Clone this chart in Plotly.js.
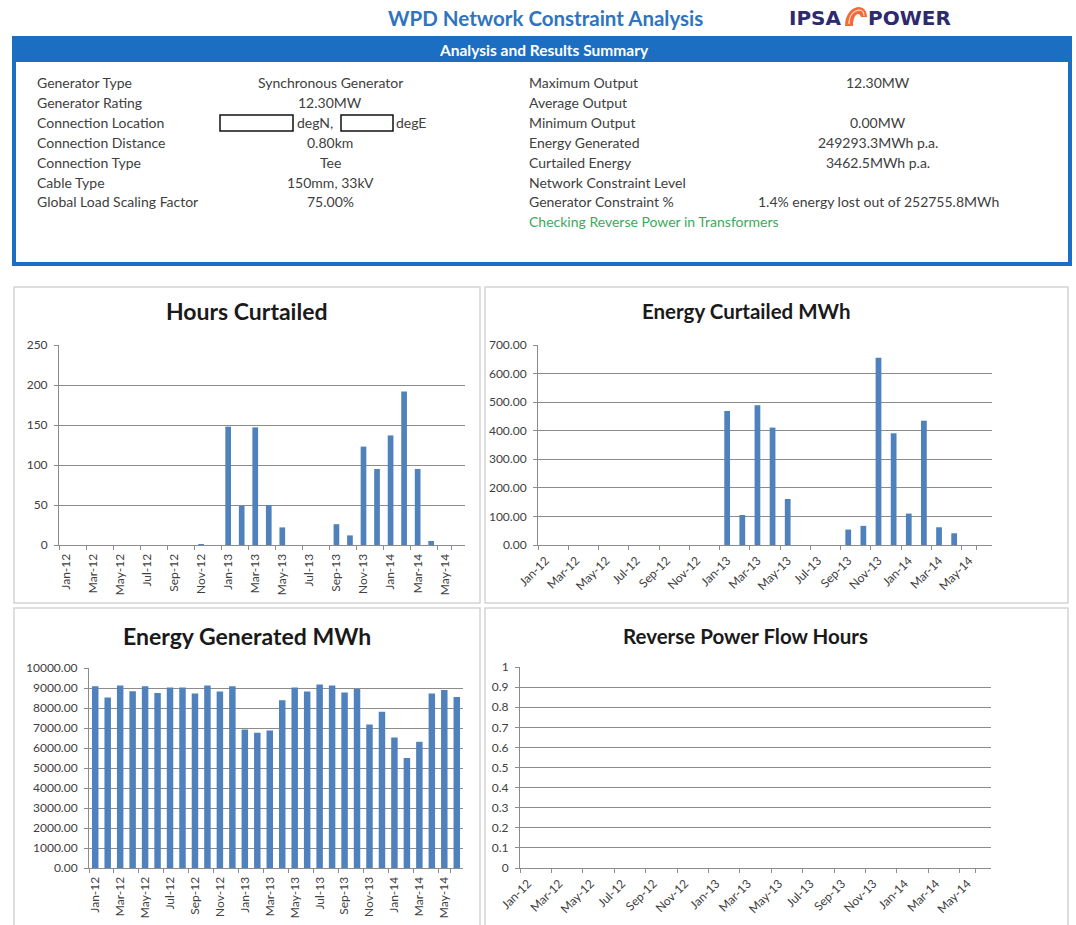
<!DOCTYPE html>
<html>
<head>
<meta charset="utf-8">
<script src="https://cdn.plot.ly/plotly-3.0.1.min.js"></script>
<style>
html,body{margin:0;padding:0;background:#ffffff;}
#chart{width:1076px;height:925px;}
</style>
</head>
<body>
<div id="chart"></div>
<script>
// ---------------- DATA ----------------
const months = ['Jan-12','Feb-12','Mar-12','Apr-12','May-12','Jun-12','Jul-12','Aug-12','Sep-12','Oct-12','Nov-12','Dec-12',
                'Jan-13','Feb-13','Mar-13','Apr-13','May-13','Jun-13','Jul-13','Aug-13','Sep-13','Oct-13','Nov-13','Dec-13',
                'Jan-14','Feb-14','Mar-14','Apr-14','May-14','Jun-14'];
const tickLabels = ['Jan-12','Mar-12','May-12','Jul-12','Sep-12','Nov-12','Jan-13','Mar-13','May-13','Jul-13','Sep-13','Nov-13','Jan-14','Mar-14','May-14'];

const hoursCurtailed   = [0,0,0,0,0,0,0,0,0,0,1,0, 148,49,147,50,22,0,0,0,26,12,123,95, 137,192,95,5,0,0];
const energyCurtailed  = [0,0,0,0,0,0,0,0,0,0,0,0, 469,105,489,411,161,0,0,0,54,67,655,391, 110,435,62,41,0,0];
const energyGenerated  = [9090,8520,9120,8840,9090,8750,9020,9020,8720,9120,8820,9090,
                          6930,6760,6880,8390,9020,8820,9170,9120,8770,8950,7180,7810,
                          6530,5500,6310,8720,8900,8550];
const reversePowerHours = [0,0,0,0,0,0,0,0,0,0,0,0, 0,0,0,0,0,0,0,0,0,0,0,0, 0,0,0,0,0,0];

const chartTitles = ['Hours Curtailed','Energy Curtailed MWh','Energy Generated MWh','Reverse Power Flow Hours'];

const pageTitle = 'WPD Network Constraint Analysis';
const summaryTitle = 'Analysis and Results Summary';
const leftLabels = ['Generator Type','Generator Rating','Connection Location','Connection Distance','Connection Type','Cable Type','Global Load Scaling Factor'];
const leftValues = ['Synchronous Generator','12.30MW','','0.80km','Tee','150mm, 33kV','75.00%'];
const rightLabels = ['Maximum Output','Average Output','Minimum Output','Energy Generated','Curtailed Energy','Network Constraint Level','Generator Constraint %'];
const rightValues = ['12.30MW','','0.00MW','249293.3MWh p.a.','3462.5MWh p.a.','','1.4% energy lost out of 252755.8MWh'];
const statusNote = 'Checking Reverse Power in Transformers';

// ---------------- STYLE / LAYOUT ----------------
const W = 1076, H = 925;
const fx = x => x / W;
const fy = y => 1 - y / H;
const FONT = 'Lato, "Open Sans", "Liberation Sans", sans-serif';
const GRID = '#8c8c8c';
const BAR = '#4f81bd';
const BLUE = '#1b6ec2';
const TICKFONT = {family: FONT, size: 12, color: '#404040'};
const SUMFONT = {family: FONT, size: 14, color: '#404040'};

const panels = [
  {series: hoursCurtailed,   box: [59, 465, 345, 545], yRange: [0, 250],   yStep: 50,   yFormat: '',    angle: -90, barWidth: 0.42, titlePos: [247, 311], titleSize: 23},
  {series: energyCurtailed,  box: [538, 992, 345, 545], yRange: [0, 700],  yStep: 100,  yFormat: '.2f', angle: -45, barWidth: 0.38, titlePos: [746, 311], titleSize: 20.5},
  {series: energyGenerated,  box: [89, 463, 668, 868], yRange: [0, 10000], yStep: 1000, yFormat: '.2f', angle: -90, barWidth: 0.52, titlePos: [247, 636], titleSize: 23},
  {series: reversePowerHours,box: [520, 991, 667, 868], yRange: [0, 1],    yStep: 0.1,  yFormat: '',    angle: -45, barWidth: 0.5,  titlePos: [745, 636], titleSize: 20.5}
];

const data = [];
const shapes = [];
const annotations = [];
const layout = {
  width: W, height: H,
  margin: {l: 0, r: 0, t: 0, b: 0},
  paper_bgcolor: '#ffffff',
  plot_bgcolor: 'rgba(0,0,0,0)',
  showlegend: false,
  hovermode: 'closest',
  font: {family: FONT},
  shapes: shapes,
  annotations: annotations
};

function ann(text, x, y, xanchor, font) {
  annotations.push({text: text, x: fx(x), y: fy(y), xref: 'paper', yref: 'paper',
    xanchor: xanchor, yanchor: 'middle', showarrow: false, font: font});
}
function rect(x0, y0, x1, y1, opts) {
  shapes.push(Object.assign({type: 'rect', xref: 'paper', yref: 'paper',
    x0: fx(x0), x1: fx(x1), y0: fy(y1), y1: fy(y0)}, opts));
}
function toPaper(p) {
  let k = 0;
  return p.split(' ').map(tok => {
    if (/^[A-Za-z]$/.test(tok)) return tok;
    const v = parseFloat(tok);
    const out = (k % 2 === 0) ? fx(v) : fy(v);
    k++;
    return out.toFixed(5);
  }).join(' ');
}

// chart panel frames
rect(14, 287, 480, 603, {line: {color: '#d4d4d4', width: 1.5}, fillcolor: '#ffffff', layer: 'below'});
rect(485, 287, 1068, 603, {line: {color: '#d4d4d4', width: 1.5}, fillcolor: '#ffffff', layer: 'below'});
rect(14, 608, 480, 940, {line: {color: '#d4d4d4', width: 1.5}, fillcolor: '#ffffff', layer: 'below'});
rect(485, 608, 1068, 940, {line: {color: '#d4d4d4', width: 1.5}, fillcolor: '#ffffff', layer: 'below'});

// summary box
rect(14, 38, 1070, 264, {line: {color: BLUE, width: 4}, fillcolor: '#ffffff', layer: 'below'});
rect(14, 38, 1070, 62, {line: {width: 0}, fillcolor: BLUE, layer: 'below'});
// redacted location boxes
rect(220, 115, 293, 131, {line: {color: '#111111', width: 1.5}, fillcolor: '#ffffff'});
rect(341, 115, 393, 131, {line: {color: '#111111', width: 1.5}, fillcolor: '#ffffff'});

// logo flame (fan shaped)
shapes.push({type: 'path', xref: 'paper', yref: 'paper', layer: 'above',
  path: toPaper('M 845 26 C 845 15 851 8 858 7 C 864 7 867 11 867 17 L 861 17 C 860 14 858 13 856 15 C 854 17 853 21 853 26 Z'),
  fillcolor: '#f26b3a', line: {width: 0}});
shapes.push({type: 'path', xref: 'paper', yref: 'paper', layer: 'above',
  path: toPaper('M 849 24 C 849 16 853 11 859 10 C 862 10 864 12 864 16'),
  line: {color: '#fde0cf', width: 1.2}});

// header texts
ann('<b>' + pageTitle + '</b>', 545, 18, 'center', {family: FONT, size: 20.5, color: '#2e74c0'});
ann('<b>IPSA</b>', 787, 18, 'left', {family: '"DejaVu Sans", sans-serif', size: 20, color: '#2d2a6e'});
ann('<b>POWER</b>', 866, 18, 'left', {family: '"DejaVu Sans", sans-serif', size: 20, color: '#2d2a6e'});
ann('<b>' + summaryTitle + '</b>', 544, 50, 'center', {family: FONT, size: 15.5, color: '#ffffff'});

// summary rows
const rowY = i => 83 + i * 19.8;
leftLabels.forEach((t, i) => ann(t, 35, rowY(i), 'left', SUMFONT));
leftValues.forEach((t, i) => { if (t) ann(t, 330, rowY(i), 'center', SUMFONT); });
ann('degN,', 295, rowY(2), 'left', SUMFONT);
ann('degE', 394, rowY(2), 'left', SUMFONT);
rightLabels.forEach((t, i) => ann(t, 527, rowY(i), 'left', SUMFONT));
rightValues.forEach((t, i) => { if (t) ann(t, 878, rowY(i), 'center', SUMFONT); });
ann(statusNote, 527, rowY(7), 'left', {family: FONT, size: 14, color: '#3aaa5c'});

panels.forEach((p, i) => {
  const n = i + 1;
  const xa = n === 1 ? 'x' : 'x' + n;
  const ya = n === 1 ? 'y' : 'y' + n;
  const xk = n === 1 ? 'xaxis' : 'xaxis' + n;
  const yk = n === 1 ? 'yaxis' : 'yaxis' + n;

  data.push({type: 'bar', x: months, y: p.series, xaxis: xa, yaxis: ya,
    width: p.barWidth, marker: {color: BAR}, name: chartTitles[i], hoverinfo: 'x+y'});

  layout[xk] = {domain: [fx(p.box[0]), fx(p.box[1])], anchor: ya, type: 'category',
    categoryorder: 'array', categoryarray: months, range: [-0.5, months.length - 0.5],
    tickmode: 'array', tickvals: tickLabels, tickangle: p.angle,
    ticks: 'outside', tickson: 'boundaries', ticklen: 4, tickcolor: GRID,
    ticklabelstandoff: 3, showgrid: false, zeroline: false, showline: true,
    linecolor: GRID, linewidth: 1, tickfont: TICKFONT, automargin: false, fixedrange: true};

  layout[yk] = {domain: [fy(p.box[3]), fy(p.box[2])], anchor: xa, range: p.yRange,
    tick0: 0, dtick: p.yStep, tickformat: p.yFormat, showgrid: true, gridcolor: GRID,
    gridwidth: 1, showline: true, linecolor: GRID, ticks: 'outside', ticklen: 4,
    tickcolor: GRID, ticklabelstandoff: 4, zeroline: false, tickfont: TICKFONT,
    automargin: false, fixedrange: true};

  ann('<b>' + chartTitles[i] + '</b>', p.titlePos[0], p.titlePos[1], 'center',
    {family: FONT, size: p.titleSize, color: '#1a1a1a'});
});

Plotly.newPlot('chart', data, layout, {displayModeBar: false, responsive: false});
</script>
</body>
</html>
